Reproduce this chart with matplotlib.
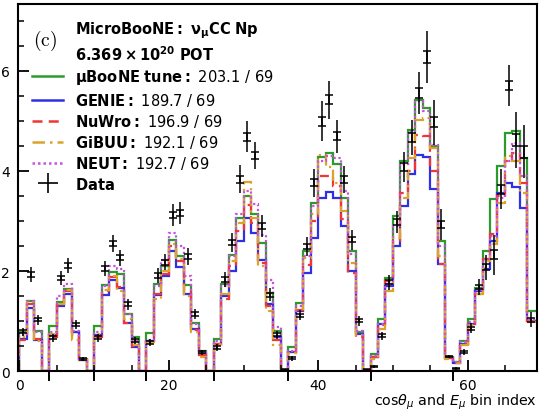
import numpy as np
import matplotlib
matplotlib.use("Agg")
import matplotlib.pyplot as plt
from matplotlib.lines import Line2D

nan = np.nan

# bin edges 0..70 (one unit per bin)
edges = np.arange(0, 71)
# bins where a new cos(theta) slice starts
separators = [4, 10, 17, 26, 36, 47, 58]

tune = [0.78, 1.40, 0.80, 0, 0.90, 1.38, 1.65, 0.78, 0.25, 0,
        0.90, 1.72, 1.98, 1.94, 1.15, 0.68, 0, 0.76, 1.75, 2.10,
        2.63, 2.30, 1.72, 0.96, 0.40, 0, 0.64, 1.75, 2.33, 3.06,
        3.50, 3.13, 2.57, 1.57, 0.81, 0, 0.48, 1.37, 2.40, 3.36,
        4.27, 4.36, 4.14, 3.46, 2.40, 0.78, 0, 0.35, 1.04, 1.87,
        3.10, 4.19, 4.82, 5.42, 5.25, 4.49, 2.60, 0.28, 0.18, 0.61,
        1.04, 1.67, 2.40, 3.43, 4.09, 4.75, 4.80, 4.25, 1.20, 1.20]

genie = [0.65, 1.27, 0.62, 0, 0.72, 1.30, 1.55, 0.78, 0.22, 0,
         0.72, 1.52, 1.82, 1.67, 0.97, 0.48, 0, 0.60, 1.52, 1.90,
         2.40, 2.08, 1.55, 0.85, 0.35, 0, 0.55, 1.50, 2.00, 2.60,
         3.06, 2.77, 2.23, 1.34, 0.68, 0, 0.38, 1.21, 1.97, 2.67,
         3.46, 3.58, 3.46, 2.90, 2.00, 0.75, 0, 0.28, 0.95, 1.70,
         2.50, 3.30, 3.93, 4.32, 4.27, 3.63, 2.14, 0.26, 0.17, 0.55,
         0.95, 1.60, 2.05, 2.60, 3.55, 3.75, 3.68, 3.25, 1.00, 1.00]

nuwro = [0.62, 1.35, 0.65, 0, 0.68, 1.32, 1.60, 0.72, 0.22, 0,
         0.68, 1.60, 1.88, 1.68, 0.97, 0.50, 0, 0.58, 1.55, 1.95,
         2.50, 2.20, 1.60, 0.82, 0.32, 0, 0.55, 1.44, 2.10, 2.80,
         3.32, 2.95, 2.17, 1.30, 0.62, 0, 0.38, 1.22, 2.13, 3.00,
         3.89, 3.89, 3.70, 3.04, 1.97, 0.68, 0, 0.28, 0.92, 1.80,
         2.60, 3.56, 3.99, 4.72, 4.69, 4.00, 2.14, 0.26, 0.17, 0.55,
         0.95, 1.55, 2.25, 2.75, 3.50, 4.20, 4.35, 3.75, 1.00, 1.00]

gibuu = [0.68, 1.38, 0.60, 0, 0.75, 1.35, 1.62, 0.62, 0.22, 0,
         0.75, 1.62, 1.90, 1.60, 1.04, 0.52, 0, 0.58, 1.45, 2.00,
         2.55, 2.25, 1.50, 0.78, 0.28, 0, 0.55, 1.55, 2.20, 2.95,
         3.78, 3.05, 2.10, 1.21, 0.52, 0, 0.36, 1.25, 2.27, 3.13,
         4.31, 4.07, 3.76, 3.20, 2.17, 0.72, 0, 0.25, 0.85, 1.61,
         2.67, 3.46, 4.26, 5.02, 5.05, 4.46, 2.30, 0.25, 0.16, 0.52,
         0.92, 1.55, 2.20, 2.55, 3.35, 4.30, 4.20, 3.55, 0.98, 0.98]

neut = [0.72, 1.40, 0.78, 0, 0.78, 1.50, 1.75, 0.80, 0.25, 0,
        0.78, 1.70, 2.10, 2.05, 1.15, 0.60, 0, 0.62, 1.70, 2.22,
        2.77, 2.50, 1.90, 0.95, 0.38, 0, 0.60, 1.70, 2.30, 3.13,
        3.60, 3.33, 2.73, 1.82, 0.88, 0, 0.40, 1.30, 2.30, 3.30,
        4.20, 4.30, 4.25, 3.60, 2.35, 0.80, 0, 0.30, 0.95, 1.75,
        2.90, 4.13, 4.78, 5.39, 5.19, 4.52, 2.50, 0.28, 0.18, 0.58,
        0.98, 1.62, 2.25, 2.70, 3.45, 4.20, 4.55, 3.90, 1.02, 1.02]

data = [0.79, 1.94, 1.03, nan, 0.67, 1.87, 2.12, 0.93, 0.24, nan,
        0.67, 2.06, 2.55, 2.27, 1.34, 0.62, nan, 0.58, 1.92, 2.18,
        3.12, 3.16, 2.30, 1.14, 0.38, nan, 0.48, 1.84, 2.57, 3.83,
        4.68, 4.30, 2.90, 1.53, 0.73, 0.03, 0.26, 1.12, 2.50, 3.76,
        4.99, 5.42, 4.69, 3.83, 2.63, 1.01, 0.03, 0.09, 0.71, 1.78,
        2.98, 4.07, 4.66, 5.55, 6.27, 4.97, 2.93, 0.29, 0.05, 0.38,
        0.86, 1.68, 2.08, 2.33, 3.63, 5.70, 4.62, 4.38, 1.03, nan]

data_err = [0.08, 0.15, 0.10, nan, 0.08, 0.14, 0.15, 0.09, 0.04, nan,
            0.08, 0.15, 0.17, 0.16, 0.11, 0.07, nan, 0.07, 0.15, 0.16,
            0.22, 0.22, 0.17, 0.10, 0.05, nan, 0.07, 0.15, 0.19, 0.28,
            0.31, 0.27, 0.21, 0.13, 0.08, 0.02, 0.05, 0.10, 0.19, 0.28,
            0.40, 0.38, 0.33, 0.27, 0.20, 0.10, 0.02, 0.03, 0.08, 0.15,
            0.22, 0.30, 0.35, 0.42, 0.52, 0.45, 0.30, 0.03, 0.03, 0.06,
            0.10, 0.16, 0.25, 0.40, 0.40, 0.41, 0.56, 0.53, 0.15, nan]

data_stat = [0.03, 0.05, 0.03, nan, 0.03, 0.04, 0.05, 0.03, 0.02, nan,
             0.03, 0.05, 0.05, 0.05, 0.04, 0.03, nan, 0.03, 0.05, 0.05,
             0.06, 0.06, 0.05, 0.04, 0.02, nan, 0.03, 0.05, 0.05, 0.07,
             0.08, 0.07, 0.06, 0.04, 0.03, 0.01, 0.02, 0.03, 0.05, 0.07,
             0.09, 0.09, 0.08, 0.07, 0.05, 0.03, 0.01, 0.01, 0.03, 0.04,
             0.06, 0.08, 0.09, 0.10, 0.12, 0.10, 0.07, 0.01, 0.01, 0.02,
             0.03, 0.04, 0.06, 0.09, 0.09, 0.09, 0.12, 0.12, 0.04, nan]

models = [
    (tune, "#2e9a2e", "-", r"$\mathbf{\mu BooNE\ tune:}$ 203.1 / 69"),
    (genie, "#2f2fe6", "-", r"$\mathbf{GENIE:}$ 189.7 / 69"),
    (nuwro, "#f03535", (0, (4, 2.5)), r"$\mathbf{NuWro:}$ 196.9 / 69"),
    (gibuu, "#dca22a", (0, (5, 2, 1, 2)), r"$\mathbf{GiBUU:}$ 192.1 / 69"),
    (neut, "#c553dd", (0, (1, 1.2)), r"$\mathbf{NEUT:}$ 192.7 / 69"),
]

fig = plt.figure(figsize=(5.39, 4.14), dpi=100)
ax = fig.add_axes([0.0334, 0.1014, 0.963, 0.8866])

for vals, col, ls, lab in models:
    ax.stairs(vals, edges, color=col, linestyle=ls, linewidth=1.6, baseline=0)

centers = edges[:-1] + 0.5
ax.errorbar(centers, data, yerr=data_err, fmt="none", ecolor="k", elinewidth=1.1, zorder=5)
ax.errorbar(centers, data, yerr=data_stat, fmt="none", ecolor="k", elinewidth=1.1,
            capsize=3, capthick=1.1, zorder=5)

# slice separators below the axis
for s in separators:
    ax.axvline(s, ymin=-0.025, ymax=0, color="k", lw=1.4, clip_on=False)

ax.set_xlim(-0.2, 69.3)
ax.set_ylim(0, 7.34)
ax.set_xticks([0, 20, 40, 60])
ax.set_xticks(np.arange(0, 70, 5), minor=True)
ax.set_yticks([0, 2, 4, 6])
ax.set_yticks(np.arange(0, 7.4, 0.5), minor=True)
ax.tick_params(which="major", direction="in", length=8, width=1.3, labelsize=10, pad=6)
ax.tick_params(which="major", axis="x", pad=5)
ax.tick_params(which="minor", direction="in", length=4.5, width=1.1)
for sp in ax.spines.values():
    sp.set_linewidth(1.5)

ax.set_xlabel(r"cos$\theta_\mu$ and $E_\mu$ bin index", loc="right", fontsize=10.3, labelpad=-0.5)

ax.text(0.052, 0.902, r"$(\mathrm{c})$", transform=ax.transAxes, fontsize=14,
        math_fontfamily="cm", ha="center", va="center")

handles = [Line2D([], [], ls="none"), Line2D([], [], ls="none")]
labels = [r"$\mathbf{MicroBooNE:\ \nu_{\mu}CC\ Np}$", r"$\mathbf{6.369\times10^{20}\ POT}$"]
for vals, col, ls, lab in models:
    handles.append(Line2D([], [], color=col, linestyle=ls, linewidth=1.8))
    labels.append(lab)
handles.append(Line2D([], [], color="k", marker="+", ls="none", markersize=15, mew=1.2))
labels.append(r"$\mathbf{Data}$")

ax.legend(handles, labels, loc="upper left", bbox_to_anchor=(0.008, 0.985), frameon=False,
          fontsize=10.5, handlelength=2.1, handletextpad=0.85, labelspacing=0.29,
          borderaxespad=0.3)

fig.savefig("out.png", dpi=100)
